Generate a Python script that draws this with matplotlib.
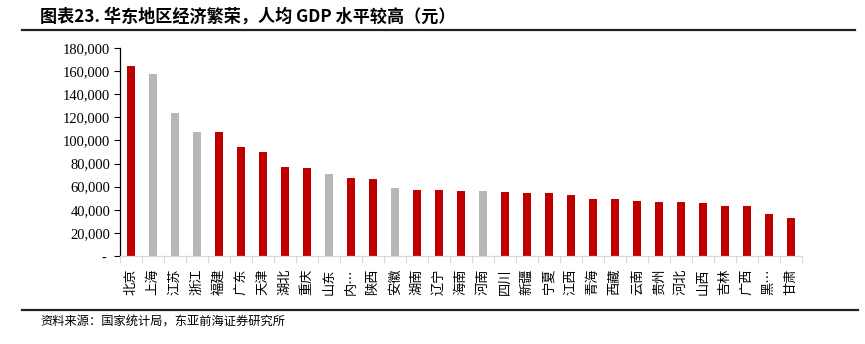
import matplotlib
matplotlib.use("Agg")
import matplotlib.pyplot as plt
from matplotlib.ticker import FuncFormatter, FixedLocator

plt.rcParams['font.family'] = ['Noto Sans CJK SC', 'DejaVu Sans']

# Per-capita GDP by province (yuan)
provinces = ['北京', '上海', '江苏', '浙江', '福建', '广东', '天津', '湖北', '重庆', '山东',
             '内…', '陕西', '安徽', '湖南', '辽宁', '海南', '河南', '四川', '新疆', '宁夏',
             '江西', '青海', '西藏', '云南', '贵州', '河北', '山西', '吉林', '广西', '黑…', '甘肃']
gdp_per_capita = [164220, 157279, 123607, 107624, 107139, 94172, 90371, 77387, 75828, 70653,
                  67852, 66649, 58496, 57540, 57191, 56507, 56388, 55774, 54280, 54217,
                  53164, 48981, 48902, 47944, 46433, 46348, 45724, 43475, 42964, 36183, 32995]
east_china = ['上海', '江苏', '浙江', '山东', '安徽', '河南']
y_ticks = [0, 20000, 40000, 60000, 80000, 100000, 120000, 140000, 160000, 180000]

RED = '#C00000'
GREY = '#B7B7B7'

fig = plt.figure(figsize=(8.65, 3.44), dpi=100)
ax = fig.add_axes([120 / 865, 1 - 256 / 344, (802 - 120) / 865, (256 - 48) / 344])

x = list(range(len(provinces)))
colors = [GREY if p in east_china else RED for p in provinces]
ax.bar(x, gdp_per_capita, width=0.33, color=colors, zorder=2)

ax.set_xlim(-0.5, len(provinces) - 0.5)
ax.set_ylim(0, 180000)

# y axis: Excel accounting style, zero shown as a dash
ax.yaxis.set_major_locator(FixedLocator(y_ticks))
ax.yaxis.set_major_formatter(FuncFormatter(lambda v, pos: '- ' if v == 0 else f'{int(v):,}'))
for lbl in ax.get_yticklabels():
    lbl.set_fontfamily('Liberation Serif')
    lbl.set_fontsize(10.5)
ax.tick_params(axis='y', direction='out', length=4, width=0.8, color='black', pad=3)

# x axis: category labels rotated, tick marks between categories
ax.set_xticks(x)
ax.set_xticklabels(provinces, rotation=90, fontsize=9.5, va='top', ha='center')
ax.tick_params(axis='x', which='major', length=0, pad=9)
ax.set_xticks([i - 0.5 for i in range(len(provinces) + 1)], minor=True)
ax.tick_params(axis='x', which='minor', direction='out', length=5, width=0.8, color='#D9D9D9')

for side in ('top', 'right'):
    ax.spines[side].set_visible(False)
ax.spines['left'].set_color('black')
ax.spines['left'].set_linewidth(0.9)
ax.spines['bottom'].set_color('#D9D9D9')
ax.spines['bottom'].set_linewidth(0.9)

# title and source rules
fig.text(40 / 865, 1 - 17 / 344, '图表23. 华东地区经济繁荣，人均 GDP 水平较高（元）',
         fontsize=12.3, fontweight='bold', va='center', ha='left')
fig.add_artist(plt.Line2D([22 / 865, 855 / 865], [1 - 29.5 / 344] * 2, color='#222222', lw=1.6))
fig.add_artist(plt.Line2D([22 / 865, 858 / 865], [1 - 310 / 344] * 2, color='#222222', lw=1.6))
fig.text(40 / 865, 1 - 322 / 344, '资料来源：国家统计局，东亚前海证券研究所',
         fontsize=8.8, va='center', ha='left')

fig.savefig('out.png', dpi=100)
